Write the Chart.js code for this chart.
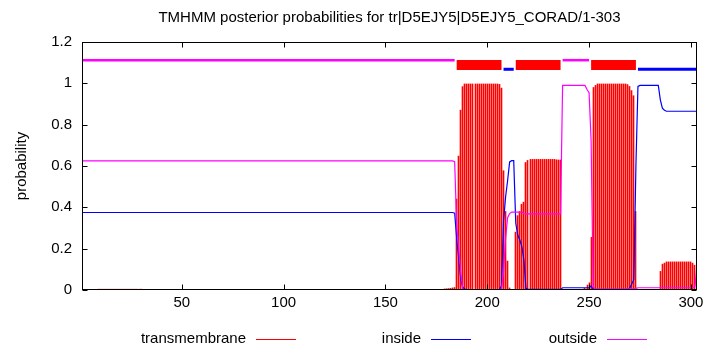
<!DOCTYPE html>
<html>
<head>
<meta charset="utf-8">
<script src="https://cdn.jsdelivr.net/npm/chart.js@4.4.1/dist/chart.umd.min.js"></script>
<style>
  html, body { margin: 0; padding: 0; background: #fff; }
  #wrap { width: 710px; height: 350px; }
</style>
</head>
<body>
<div id="wrap"><canvas id="tmhmmChart" width="710" height="350"></canvas></div>
<script>
const chartTitle = "TMHMM posterior probabilities for tr|D5EJY5|D5EJY5_CORAD/1-303";
const yAxisTitle = "probability";
const xTicks = [50, 100, 150, 200, 250, 300];
const yTicks = [0, 0.2, 0.4, 0.6, 0.8, 1, 1.2];
const yTickLabels = ["0", "0.2", "0.4", "0.6", "0.8", "1", "1.2"];
const seriesNames = ["transmembrane", "inside", "outside"];

// predicted topology, drawn as the strip along the top
const segmentTypes = ["outside", "TMhelix", "inside", "TMhelix", "outside", "TMhelix", "inside"];
const segmentStart = [1, 185, 208, 214, 237, 251, 274];
const segmentEnd = [184, 207, 213, 236, 250, 273, 303];

// posterior probabilities per residue (1..303), rows of 10
const transmembrane = [
  0, 0, 0, 0, 0, 0, 0, 0, 0.004, 0.004,
  0.004, 0.004, 0.004, 0.004, 0.004, 0.004, 0.004, 0.004, 0.004, 0.004,
  0.004, 0.004, 0.004, 0.004, 0.004, 0.004, 0.004, 0.004, 0.004, 0.004,
  0, 0, 0, 0, 0, 0, 0, 0, 0, 0,
  0, 0, 0, 0, 0, 0, 0, 0, 0, 0,
  0, 0, 0, 0, 0, 0, 0, 0, 0, 0,
  0, 0, 0, 0, 0, 0, 0, 0, 0, 0,
  0, 0, 0, 0, 0, 0, 0, 0, 0, 0,
  0, 0, 0, 0, 0, 0, 0, 0, 0, 0,
  0, 0, 0, 0, 0, 0, 0, 0, 0, 0,
  0, 0, 0, 0, 0, 0, 0, 0, 0, 0,
  0, 0, 0, 0, 0, 0, 0, 0, 0, 0,
  0, 0, 0, 0, 0, 0, 0, 0, 0, 0,
  0, 0, 0, 0, 0, 0, 0, 0, 0, 0,
  0, 0, 0, 0, 0, 0, 0, 0, 0, 0,
  0, 0, 0, 0, 0, 0, 0, 0, 0, 0,
  0, 0, 0, 0, 0, 0, 0, 0, 0, 0,
  0, 0, 0, 0, 0, 0, 0, 0, 0.005, 0.006,
  0.007, 0.008, 0.01, 0.012, 0.44, 0.648, 0.87, 0.984, 0.997, 0.997,
  0.997, 0.997, 0.997, 0.997, 0.997, 0.997, 0.997, 0.997, 0.997, 0.997,
  0.997, 0.997, 0.997, 0.997, 0.997, 0.995, 0.977, 0.577, 0.38, 0.14,
  0.01, 0.003, 0.003, 0.28, 0.36, 0.38, 0.415, 0.425, 0.617, 0.627,
  0.632, 0.632, 0.632, 0.632, 0.632, 0.632, 0.632, 0.632, 0.632, 0.632,
  0.632, 0.632, 0.632, 0.63, 0.629, 0.629, 0.001, 0.001, 0.001, 0.001,
  0.001, 0.001, 0.003, 0.003, 0.003, 0.003, 0.003, 0.008, 0.024, 0.035,
  0.255, 0.98, 0.99, 0.997, 0.997, 0.997, 0.997, 0.997, 0.997, 0.997,
  0.997, 0.997, 0.997, 0.997, 0.997, 0.997, 0.997, 0.997, 0.994, 0.985,
  0.965, 0.94, 0.38, 0.004, 0.003, 0.003, 0.003, 0.003, 0, 0,
  0.003, 0.003, 0.003, 0.003, 0.09, 0.125, 0.13, 0.136, 0.136, 0.136,
  0.136, 0.136, 0.136, 0.136, 0.136, 0.136, 0.136, 0.136, 0.136, 0.136,
  0.13, 0.12, 0.02
];

const inside = [
  0.375, 0.375, 0.375, 0.375, 0.375, 0.375, 0.375, 0.375, 0.375, 0.375,
  0.375, 0.375, 0.375, 0.375, 0.375, 0.375, 0.375, 0.375, 0.375, 0.375,
  0.375, 0.375, 0.375, 0.375, 0.375, 0.375, 0.375, 0.375, 0.375, 0.375,
  0.375, 0.375, 0.375, 0.375, 0.375, 0.375, 0.375, 0.375, 0.375, 0.375,
  0.375, 0.375, 0.375, 0.375, 0.375, 0.375, 0.375, 0.375, 0.375, 0.375,
  0.375, 0.375, 0.375, 0.375, 0.375, 0.375, 0.375, 0.375, 0.375, 0.375,
  0.375, 0.375, 0.375, 0.375, 0.375, 0.375, 0.375, 0.375, 0.375, 0.375,
  0.375, 0.375, 0.375, 0.375, 0.375, 0.375, 0.375, 0.375, 0.375, 0.375,
  0.375, 0.375, 0.375, 0.375, 0.375, 0.375, 0.375, 0.375, 0.375, 0.375,
  0.375, 0.375, 0.375, 0.375, 0.375, 0.375, 0.375, 0.375, 0.375, 0.375,
  0.375, 0.375, 0.375, 0.375, 0.375, 0.375, 0.375, 0.375, 0.375, 0.375,
  0.375, 0.375, 0.375, 0.375, 0.375, 0.375, 0.375, 0.375, 0.375, 0.375,
  0.375, 0.375, 0.375, 0.375, 0.375, 0.375, 0.375, 0.375, 0.375, 0.375,
  0.375, 0.375, 0.375, 0.375, 0.375, 0.375, 0.375, 0.375, 0.375, 0.375,
  0.375, 0.375, 0.375, 0.375, 0.375, 0.375, 0.375, 0.375, 0.375, 0.375,
  0.375, 0.375, 0.375, 0.375, 0.375, 0.375, 0.375, 0.375, 0.375, 0.375,
  0.375, 0.375, 0.375, 0.375, 0.375, 0.375, 0.375, 0.375, 0.375, 0.375,
  0.375, 0.375, 0.375, 0.375, 0.375, 0.375, 0.375, 0.375, 0.375, 0.375,
  0.375, 0.375, 0.375, 0.372, 0.25, 0.15, 0.05, 0.013, 0.004, 0.002,
  0.002, 0.002, 0.002, 0.002, 0.002, 0.002, 0.002, 0.002, 0.002, 0.002,
  0.002, 0.002, 0.002, 0.002, 0.002, 0.002, 0.02, 0.33, 0.45, 0.53,
  0.62, 0.626, 0.626, 0.323, 0.266, 0.242, 0.21, 0.145, 0.008, 0.003,
  0.003, 0.003, 0.003, 0.003, 0.003, 0.003, 0.003, 0.003, 0.003, 0.003,
  0.003, 0.003, 0.003, 0.003, 0.003, 0.003, 0.011, 0.011, 0.011, 0.011,
  0.011, 0.011, 0.011, 0.011, 0.011, 0.011, 0.011, 0.011, 0.011, 0.01,
  0.02, 0.003, 0.003, 0.003, 0.003, 0.003, 0.003, 0.003, 0.003, 0.003,
  0.003, 0.003, 0.003, 0.003, 0.003, 0.003, 0.003, 0.003, 0.005, 0.01,
  0.03, 0.05, 0.6, 0.985, 0.99, 0.99, 0.99, 0.99, 0.99, 0.99,
  0.99, 0.99, 0.99, 0.99, 0.92, 0.88, 0.87, 0.865, 0.865, 0.865,
  0.865, 0.865, 0.865, 0.865, 0.865, 0.865, 0.865, 0.865, 0.865, 0.865,
  0.865, 0.865, 0.865
];

const outside = [
  0.625, 0.625, 0.625, 0.625, 0.625, 0.625, 0.625, 0.625, 0.625, 0.625,
  0.625, 0.625, 0.625, 0.625, 0.625, 0.625, 0.625, 0.625, 0.625, 0.625,
  0.625, 0.625, 0.625, 0.625, 0.625, 0.625, 0.625, 0.625, 0.625, 0.625,
  0.625, 0.625, 0.625, 0.625, 0.625, 0.625, 0.625, 0.625, 0.625, 0.625,
  0.625, 0.625, 0.625, 0.625, 0.625, 0.625, 0.625, 0.625, 0.625, 0.625,
  0.625, 0.625, 0.625, 0.625, 0.625, 0.625, 0.625, 0.625, 0.625, 0.625,
  0.625, 0.625, 0.625, 0.625, 0.625, 0.625, 0.625, 0.625, 0.625, 0.625,
  0.625, 0.625, 0.625, 0.625, 0.625, 0.625, 0.625, 0.625, 0.625, 0.625,
  0.625, 0.625, 0.625, 0.625, 0.625, 0.625, 0.625, 0.625, 0.625, 0.625,
  0.625, 0.625, 0.625, 0.625, 0.625, 0.625, 0.625, 0.625, 0.625, 0.625,
  0.625, 0.625, 0.625, 0.625, 0.625, 0.625, 0.625, 0.625, 0.625, 0.625,
  0.625, 0.625, 0.625, 0.625, 0.625, 0.625, 0.625, 0.625, 0.625, 0.625,
  0.625, 0.625, 0.625, 0.625, 0.625, 0.625, 0.625, 0.625, 0.625, 0.625,
  0.625, 0.625, 0.625, 0.625, 0.625, 0.625, 0.625, 0.625, 0.625, 0.625,
  0.625, 0.625, 0.625, 0.625, 0.625, 0.625, 0.625, 0.625, 0.625, 0.625,
  0.625, 0.625, 0.625, 0.625, 0.625, 0.625, 0.625, 0.625, 0.625, 0.625,
  0.625, 0.625, 0.625, 0.625, 0.625, 0.625, 0.625, 0.625, 0.625, 0.625,
  0.625, 0.625, 0.625, 0.625, 0.625, 0.625, 0.625, 0.625, 0.625, 0.625,
  0.625, 0.625, 0.625, 0.621, 0.31, 0.2, 0.08, 0.003, 0.001, 0.001,
  0.001, 0.001, 0.001, 0.001, 0.001, 0.001, 0.001, 0.001, 0.001, 0.001,
  0.001, 0.001, 0.001, 0.001, 0.001, 0.001, 0.003, 0.09, 0.25, 0.35,
  0.37, 0.377, 0.377, 0.377, 0.377, 0.377, 0.377, 0.37, 0.368, 0.368,
  0.368, 0.368, 0.368, 0.368, 0.368, 0.368, 0.368, 0.368, 0.368, 0.368,
  0.368, 0.368, 0.368, 0.368, 0.368, 0.368, 0.99, 0.99, 0.99, 0.99,
  0.99, 0.99, 0.99, 0.99, 0.99, 0.99, 0.99, 0.99, 0.97, 0.955,
  0.725, 0.016, 0.004, 0.004, 0.004, 0.004, 0.004, 0.004, 0.004, 0.004,
  0.004, 0.004, 0.004, 0.004, 0.004, 0.004, 0.004, 0.006, 0.006, 0.006,
  0.006, 0.006, 0.008, 0.011, 0.011, 0.011, 0.011, 0.011, 0.011, 0.011,
  0.011, 0.011, 0.011, 0.011, 0.011, 0.011, 0.011, 0.011, 0.011, 0.011,
  0.011, 0.011, 0.011, 0.011, 0.011, 0.011, 0.011, 0.011, 0.011, 0.011,
  0.011, 0.015, 0.12
];

const colors = { transmembrane: "#ff0000", inside: "#0000ff", outside: "#ff00ff", TMhelix: "#ff0000" };
const stripLevel = { outside: 1.112, inside: 1.068, TMhelix: 1.089 };
const stripWidth = { outside: 2.5, inside: 3, TMhelix: 10 };
const FONT = "'Liberation Sans', Arial, sans-serif";

const residues = transmembrane.map((_, i) => i + 1);
const toPoints = (values) => values.map((v, i) => ({ x: residues[i], y: v }));

const stripDatasets = segmentTypes.map((type, i) => ({
  type: "line",
  data: [{ x: segmentStart[i], y: stripLevel[type] }, { x: segmentEnd[i], y: stripLevel[type] }],
  borderColor: colors[type],
  borderWidth: stripWidth[type],
  borderCapStyle: "butt",
  pointRadius: 0,
  order: 0
}));

// impulses: put each 1px bar on whole pixel column so it stays crisp
const impulsePlugin = {
  id: "impulses",
  beforeDatasetDraw(chart, args) {
    if (args.meta.type !== "bar") return;
    args.meta.data.forEach((el) => { el.x = Math.floor(el.x) + 0.5; });
  }
};

// gnuplot-like frame, inward tics, title, y label and key
const framePlugin = {
  id: "frame",
  afterDraw(chart) {
    const { ctx, chartArea: a, scales } = chart;
    const l = Math.round(a.left) + 0.5, r = Math.round(a.right) - 0.5;
    const t = Math.round(a.top) + 0.5, b = Math.round(a.bottom) - 0.5;
    ctx.save();
    ctx.strokeStyle = "#000";
    ctx.lineWidth = 1;
    ctx.strokeRect(l, t, r - l, b - t);
    ctx.beginPath();
    xTicks.forEach((v) => {
      const px = Math.round(scales.x.getPixelForValue(v)) + 0.5;
      ctx.moveTo(px, b); ctx.lineTo(px, b - 5);
      ctx.moveTo(px, t); ctx.lineTo(px, t + 5);
    });
    yTicks.forEach((v) => {
      const py = Math.round(scales.y.getPixelForValue(v)) + 0.5;
      ctx.moveTo(l, py); ctx.lineTo(l + 5, py);
      ctx.moveTo(r, py); ctx.lineTo(r - 5, py);
    });
    ctx.stroke();

    ctx.fillStyle = "#000";
    ctx.font = "15px " + FONT;
    ctx.textBaseline = "middle";
    ctx.textAlign = "center";
    ctx.fillText(chartTitle, (a.left + a.right) / 2, 18);

    ctx.save();
    ctx.translate(22, (a.top + a.bottom) / 2);
    ctx.rotate(-Math.PI / 2);
    ctx.fillText(yAxisTitle, 0, 0);
    ctx.restore();

    const keyRight = [246, 421, 597];
    ctx.textAlign = "right";
    seriesNames.forEach((name, i) => {
      ctx.fillStyle = "#000";
      ctx.fillText(name, keyRight[i], 339);
      ctx.strokeStyle = colors[name];
      ctx.beginPath();
      ctx.moveTo(keyRight[i] + 10, 339.5);
      ctx.lineTo(keyRight[i] + 50, 339.5);
      ctx.stroke();
    });
    ctx.restore();
  }
};

new Chart(document.getElementById("tmhmmChart"), {
  type: "bar",
  data: {
    datasets: [
      ...stripDatasets,
      {
        type: "line",
        label: "outside",
        data: toPoints(outside),
        borderColor: colors.outside,
        borderWidth: 1.2,
        pointRadius: 0,
        tension: 0,
        order: 1
      },
      {
        type: "line",
        label: "inside",
        data: toPoints(inside),
        borderColor: colors.inside,
        borderWidth: 1.2,
        pointRadius: 0,
        tension: 0,
        order: 2
      },
      {
        type: "bar",
        label: "transmembrane",
        data: toPoints(transmembrane),
        backgroundColor: colors.transmembrane,
        barThickness: 1,
        borderWidth: 0,
        order: 3
      }
    ]
  },
  options: {
    responsive: false,
    animation: false,
    layout: { padding: { top: 42, right: 13, left: 0, bottom: 0 } },
    plugins: { legend: { display: false }, title: { display: false }, tooltip: { enabled: false } },
    scales: {
      x: {
        type: "linear",
        min: 1,
        max: 303,
        offset: false,
        grid: { display: false, drawTicks: false, offset: false },
        border: { display: false },
        afterBuildTicks: (scale) => { scale.ticks = xTicks.map((v) => ({ value: v })); },
        afterFit: (scale) => { scale.height = 60; },
        ticks: { color: "#000", font: { family: FONT, size: 15 }, padding: 4, maxRotation: 0, callback: (v) => String(v) }
      },
      y: {
        type: "linear",
        min: 0,
        max: 1.2,
        grid: { display: false, drawTicks: false },
        border: { display: false },
        afterBuildTicks: (scale) => { scale.ticks = yTicks.map((v) => ({ value: v })); },
        afterFit: (scale) => { scale.width = 82; },
        ticks: {
          color: "#000",
          font: { family: FONT, size: 15 },
          padding: 10,
          callback: (v) => yTickLabels[yTicks.indexOf(v)] ?? String(v)
        }
      }
    }
  },
  plugins: [impulsePlugin, framePlugin]
});
</script>
</body>
</html>
